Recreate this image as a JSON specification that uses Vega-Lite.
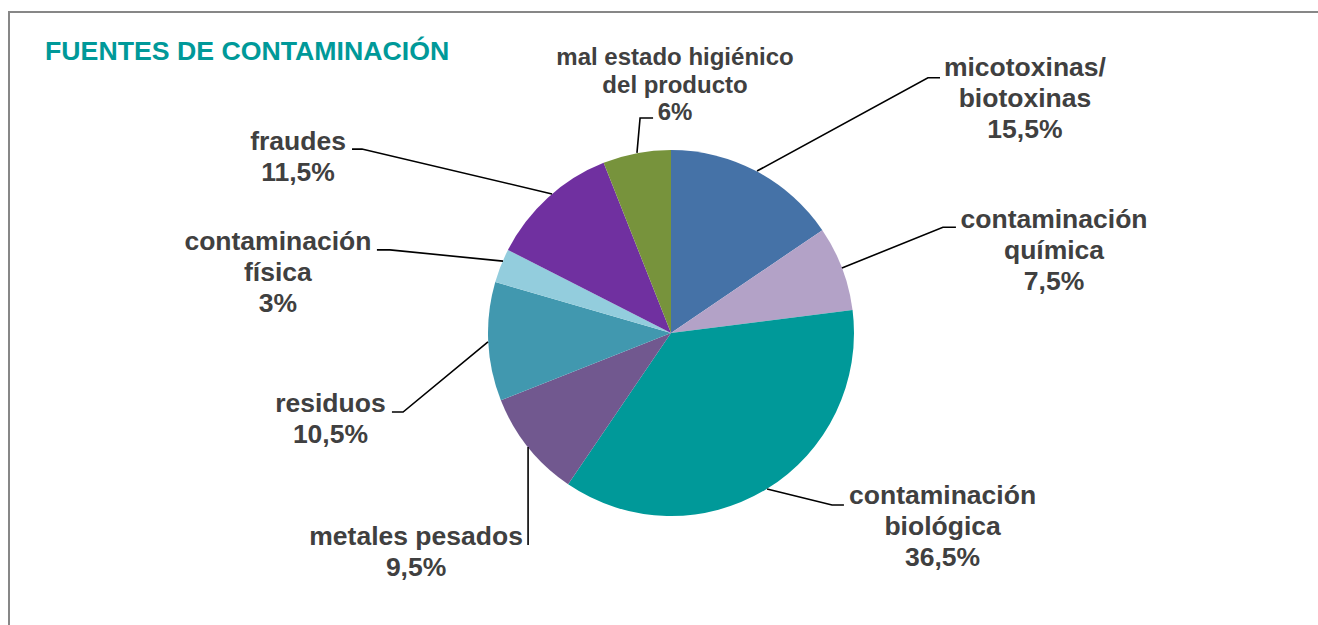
{
  "$schema": "https://vega.github.io/schema/vega-lite/v6.json",
  "width": 1324,
  "height": 642,
  "autosize": {"type": "none"},
  "padding": {"left": 9, "top": 12, "right": 0, "bottom": 0},
  "background": "white",
  "config": {
    "view": {"stroke": "#878787", "strokeWidth": 2},
    "font": "Liberation Sans"
  },
  "title": {
    "text": "FUENTES DE CONTAMINACIÓN",
    "anchor": "start",
    "frame": "group",
    "orient": "top",
    "baseline": "alphabetic",
    "offset": -75,
    "dx": 36,
    "color": "#009999",
    "font": "Liberation Sans",
    "fontSize": 26.7,
    "fontWeight": "bold"
  },
  "datasets": {
    "fuentes": [
      {"fuente": "micotoxinas/biotoxinas", "valor": 15.5, "orden": 1},
      {"fuente": "contaminación química", "valor": 7.5, "orden": 2},
      {"fuente": "contaminación biológica", "valor": 36.5, "orden": 3},
      {"fuente": "metales pesados", "valor": 9.5, "orden": 4},
      {"fuente": "residuos", "valor": 10.5, "orden": 5},
      {"fuente": "contaminación física", "valor": 3, "orden": 6},
      {"fuente": "fraudes", "valor": 11.5, "orden": 7},
      {"fuente": "mal estado higiénico del producto", "valor": 6, "orden": 8}
    ],
    "guias": [
      {"fuente": "micotoxinas/biotoxinas", "punto": 1, "u": 0.470, "v": 0.885},
      {"fuente": "micotoxinas/biotoxinas", "punto": 2, "u": 1.404, "v": 1.395},
      {"fuente": "micotoxinas/biotoxinas", "punto": 3, "u": 1.470, "v": 1.395},
      {"fuente": "contaminación química", "punto": 1, "u": 0.934, "v": 0.355},
      {"fuente": "contaminación química", "punto": 2, "u": 1.486, "v": 0.578},
      {"fuente": "contaminación química", "punto": 3, "u": 1.557, "v": 0.578},
      {"fuente": "contaminación biológica", "punto": 1, "u": 0.525, "v": -0.852},
      {"fuente": "contaminación biológica", "punto": 2, "u": 0.880, "v": -0.940},
      {"fuente": "contaminación biológica", "punto": 3, "u": 0.945, "v": -0.940},
      {"fuente": "metales pesados", "punto": 1, "u": -0.781, "v": -0.623},
      {"fuente": "metales pesados", "punto": 2, "u": -0.781, "v": -1.158},
      {"fuente": "residuos", "punto": 1, "u": -1.000, "v": -0.049},
      {"fuente": "residuos", "punto": 2, "u": -1.464, "v": -0.432},
      {"fuente": "residuos", "punto": 3, "u": -1.525, "v": -0.432},
      {"fuente": "contaminación física", "punto": 1, "u": -0.918, "v": 0.393},
      {"fuente": "contaminación física", "punto": 2, "u": -1.536, "v": 0.454},
      {"fuente": "contaminación física", "punto": 3, "u": -1.607, "v": 0.454},
      {"fuente": "fraudes", "punto": 1, "u": -0.650, "v": 0.760},
      {"fuente": "fraudes", "punto": 2, "u": -1.689, "v": 1.005},
      {"fuente": "fraudes", "punto": 3, "u": -1.743, "v": 1.005},
      {"fuente": "mal estado higiénico del producto", "punto": 1, "u": -0.186, "v": 0.984},
      {"fuente": "mal estado higiénico del producto", "punto": 2, "u": -0.169, "v": 1.175},
      {"fuente": "mal estado higiénico del producto", "punto": 3, "u": -0.098, "v": 1.175}
    ],
    "etiquetas": [
      {"fuente": "micotoxinas/biotoxinas", "texto": "micotoxinas/|biotoxinas|15,5%", "u": 1.934, "v": 1.402, "grupo": "normal"},
      {"fuente": "contaminación química", "texto": "contaminación|química|7,5%", "u": 2.093, "v": 0.574, "grupo": "normal"},
      {"fuente": "contaminación biológica", "texto": "contaminación|biológica|36,5%", "u": 1.484, "v": -0.934, "grupo": "normal"},
      {"fuente": "metales pesados", "texto": "metales pesados|9,5%", "u": -1.393, "v": -1.158, "grupo": "normal"},
      {"fuente": "residuos", "texto": "residuos|10,5%", "u": -1.861, "v": -0.430, "grupo": "normal"},
      {"fuente": "contaminación física", "texto": "contaminación|física|3%", "u": -2.148, "v": 0.454, "grupo": "normal"},
      {"fuente": "fraudes", "texto": "fraudes|11,5%", "u": -2.038, "v": 1.000, "grupo": "normal"},
      {"fuente": "mal estado higiénico del producto", "texto": "mal estado higiénico|del producto|6%", "u": 0.022, "v": 1.464, "grupo": "pequeño"}
    ]
  },
  "layer": [
    {
      "data": {"name": "fuentes"},
      "mark": {"type": "arc", "outerRadius": 183},
      "encoding": {
        "theta": {"field": "valor", "type": "quantitative", "stack": true},
        "order": {"field": "orden", "type": "quantitative", "sort": "ascending"},
        "color": {
          "field": "fuente",
          "type": "nominal",
          "legend": null,
          "scale": {
            "domain": ["micotoxinas/biotoxinas", "contaminación química", "contaminación biológica", "metales pesados", "residuos", "contaminación física", "fraudes", "mal estado higiénico del producto"],
            "range": ["#4572A7", "#B3A2C7", "#009999", "#71588F", "#4198AF", "#93CDDD", "#7030A0", "#77933C"]
          }
        }
      }
    },
    {
      "data": {"name": "guias"},
      "mark": {"type": "line", "color": "black", "strokeWidth": 1.6, "interpolate": "linear"},
      "encoding": {
        "x": {"field": "u", "type": "quantitative", "axis": null, "scale": {"domain": [-3.6175, 3.6175], "nice": false, "zero": false}},
        "y": {"field": "v", "type": "quantitative", "axis": null, "scale": {"domain": [-1.7541, 1.7541], "nice": false, "zero": false}},
        "detail": {"field": "fuente", "type": "nominal"},
        "order": {"field": "punto", "type": "quantitative"}
      }
    },
    {
      "data": {"name": "etiquetas"},
      "transform": [{"filter": "datum.grupo === 'normal'"}],
      "mark": {"type": "text", "font": "Liberation Sans", "fontWeight": "bold", "fontSize": 26.5, "color": "#404040", "align": "center", "baseline": "alphabetic", "lineBreak": "|", "lineHeight": 31},
      "encoding": {
        "x": {"field": "u", "type": "quantitative"},
        "y": {"field": "v", "type": "quantitative"},
        "text": {"field": "texto", "type": "nominal"}
      }
    },
    {
      "data": {"name": "etiquetas"},
      "transform": [{"filter": "datum.grupo === 'pequeño'"}],
      "mark": {"type": "text", "font": "Liberation Sans", "fontWeight": "bold", "fontSize": 24, "color": "#404040", "align": "center", "baseline": "alphabetic", "lineBreak": "|", "lineHeight": 27.5},
      "encoding": {
        "x": {"field": "u", "type": "quantitative"},
        "y": {"field": "v", "type": "quantitative"},
        "text": {"field": "texto", "type": "nominal"}
      }
    }
  ]
}
